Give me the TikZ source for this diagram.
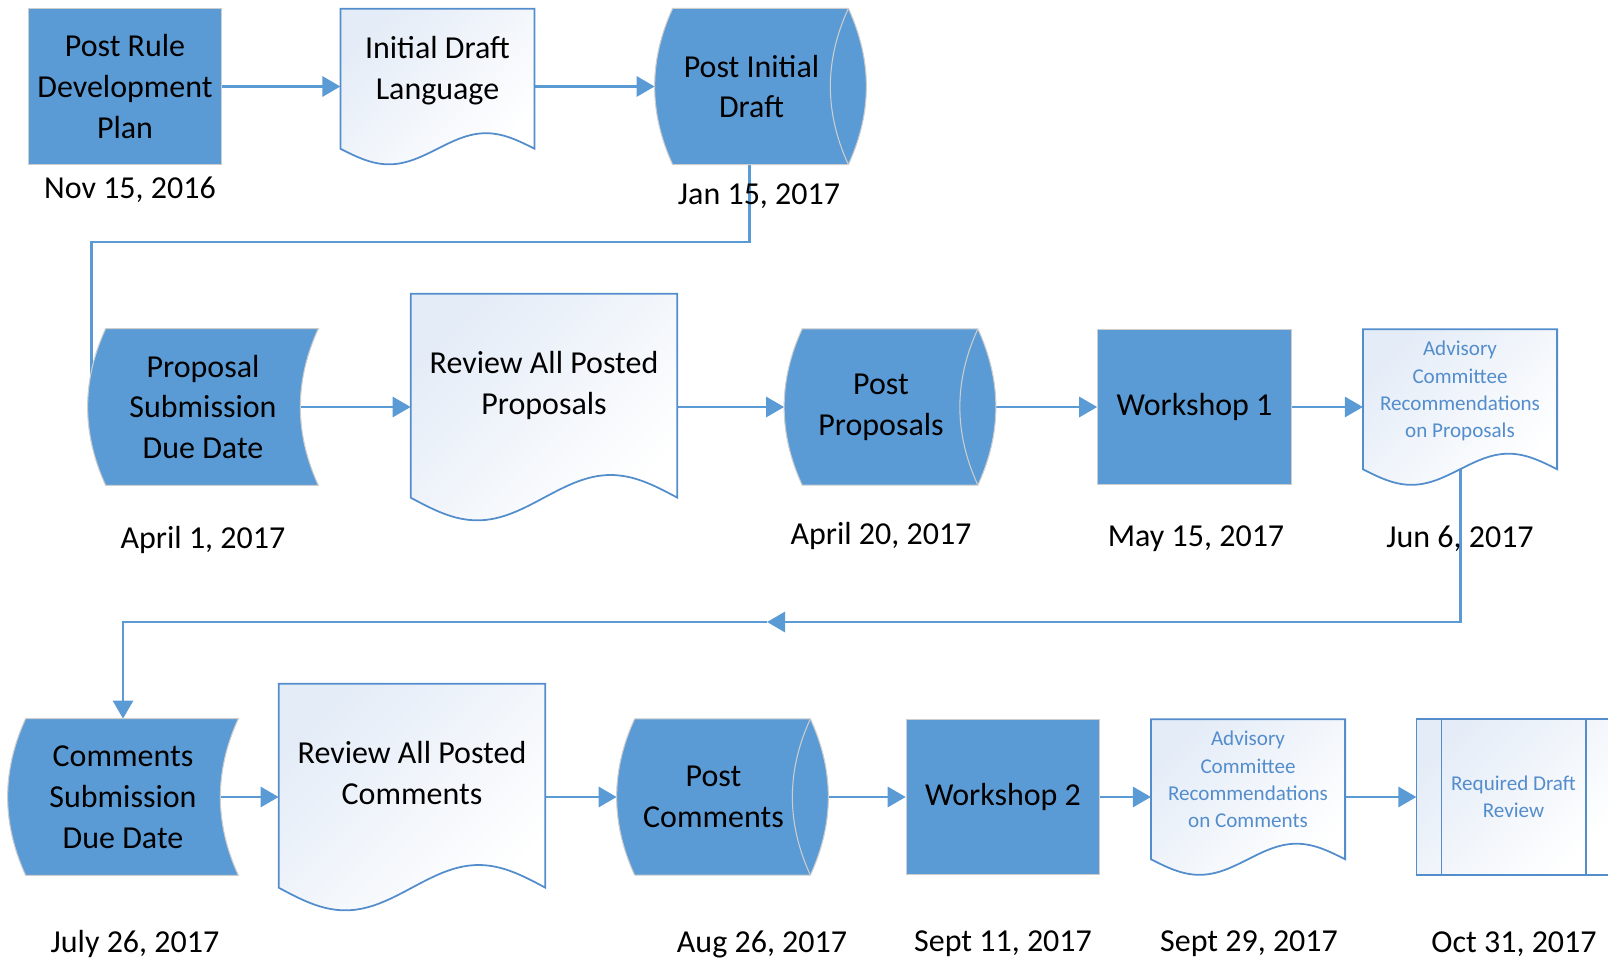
\documentclass[tikz,border=0pt]{standalone}
\usepackage{fontspec}
\setmainfont{Carlito}
\usetikzlibrary{calc}
\usetikzlibrary{arrows.meta}
\definecolor{fillblue}{RGB}{91,155,213}
\definecolor{rimgray}{RGB}{205,205,205}
\definecolor{lineblue}{RGB}{91,155,213}
\definecolor{docrim}{RGB}{84,141,204}
\definecolor{docink}{RGB}{84,141,204}
\definecolor{docshade}{RGB}{228,236,247}
\pgfdeclarelayer{lines}
\pgfdeclarelayer{shapes}
\pgfsetlayers{lines,shapes,main}
\tikzstyle{boxtext} = [inner sep=0pt, align=center,
font=\fontsize{18.2}{23.3}\selectfont]
\tikzstyle{process} = [boxtext,fill=fillblue,draw=rimgray,line width=0.6pt,
minimum width=3.87cm, minimum height=3.11cm]
\tikzstyle{drum} = [boxtext, minimum width=3.86cm, minimum height=3.11cm]
\tikzstyle{tape} = [boxtext, minimum width=4.6cm, minimum height=3.12cm]
\tikzstyle{doc} = [boxtext, minimum width=3.87cm, minimum height=3.1cm,
text depth=0.74cm]
\tikzstyle{bigdoc} = [doc, minimum width=5.32cm, minimum height=4.52cm,
text depth=0.97cm]
\tikzstyle{note} = [doc, font=\fontsize{12}{15.6}\selectfont, text=docink,
text depth=0.7cm]
\tikzstyle{barbox} = [note, text depth=, minimum height=3.12cm]
\tikzstyle{date} = [boxtext]
\tikzstyle{docfill} = [draw=docrim, line width=1pt, top color=docshade,
bottom color=white, shading angle=45]
\tikzstyle{flow} = [draw=lineblue, line width=1.7pt, ->,
>={Triangle[length=0.36cm,width=0.4cm]}]
\newcommand{\bulge}{0.36cm}
\newcommand{\drumshape}[1]{ %
  % side-on drum: bulging left edge, bulging right edge and back arc
  \begin{pgfonlayer}{shapes}
  \path[fill=fillblue, draw=rimgray, line width=0.6pt]
    let \p1=(#1.north west), \p2=(#1.south east), \n1={(\y1-\y2)/3} in
    (\x1+\bulge,\y1) -- (\x2,\y1)
    .. controls (\x2+4*\bulge/3,\y1-\n1) and (\x2+4*\bulge/3,\y2+\n1) .. (\x2,\y2)
    -- (\x1+\bulge,\y2)
    .. controls (\x1-\bulge/3,\y2+\n1) and (\x1-\bulge/3,\y1-\n1) .. cycle;
  \draw[rimgray, line width=0.6pt]
    let \p1=(#1.north east), \p2=(#1.south east), \n1={(\y1-\y2)/3} in
    (\x1,\y1)
    .. controls (\x1-4*\bulge/3,\y1-\n1) and (\x1-4*\bulge/3,\y2+\n1) .. (\x1,\y2);
  \end{pgfonlayer}
}
\newcommand{\tapeshape}[1]{ %
  \begin{pgfonlayer}{shapes}
  \path[fill=fillblue, draw=rimgray, line width=0.6pt]
    let \p1=(#1.north west), \p2=(#1.south east), \n1={(\y1-\y2)/3} in
    (\x1+\bulge,\y1) -- (\x2,\y1)
    .. controls (\x2-4*\bulge/3,\y1-\n1) and (\x2-4*\bulge/3,\y2+\n1) .. (\x2,\y2)
    -- (\x1+\bulge,\y2)
    .. controls (\x1-\bulge/3,\y2+\n1) and (\x1-\bulge/3,\y1-\n1) .. cycle;
  \end{pgfonlayer}
}
\newcommand{\docshape}[1]{ %
  \begin{pgfonlayer}{shapes}
  \path[docfill]
    let \p1=(#1.north west), \p2=(#1.south east), \n1={\x2-\x1},
    \n2={(\y1-\y2)/10} in
    (\x1,\y1) -- (\x2,\y1) -- (\x2,\y2+\n2)
    sin (\x1+0.75*\n1,\y2+2*\n2) cos (\x1+0.5*\n1,\y2+\n2)
    sin (\x1+0.25*\n1,\y2) cos (\x1,\y2+\n2) -- cycle;
  \end{pgfonlayer}
}
\newcommand{\barshape}[1]{ %
  \begin{pgfonlayer}{shapes}
  \path[docfill] (#1.north west) rectangle (#1.south east);
  \draw[docrim, line width=1pt]
    ($(#1.north west)+(0.5,0)$) -- ($(#1.south west)+(0.5,0)$)
    ($(#1.north east)+(-0.5,0)$) -- ($(#1.south east)+(-0.5,0)$);
  \end{pgfonlayer}
}

\begin{document}
\begin{tikzpicture}
  \useasboundingbox (0,0) rectangle (32.16,-19.18);
  % first row
  \node[process](postrule) at (2.50,-1.73) {Post Rule\\Development\\Plan};
  \node[doc](draft) at (8.75,-1.73) {Initial Draft\\Language};
  \docshape{draft}
  \node[drum](postinit) at (15.03,-1.73) {Post Initial\\Draft};
  \drumshape{postinit}
  \node[date](d-postrule) at (2.60,-3.80) {Nov 15, 2016};
  \node[date](d-postinit) at (15.18,-3.92) {Jan 15, 2017};
  % second row
  \node[tape](proposal) at (4.06,-8.14) {Proposal\\Submission\\Due Date};
  \tapeshape{proposal}
  \node[bigdoc](reviewprop) at (10.88,-8.14) {Review All Posted\\Proposals};
  \docshape{reviewprop}
  \node[drum](postprop) at (17.62,-8.14) {Post\\Proposals};
  \drumshape{postprop}
  \node[process](ws1) at (23.89,-8.14) {Workshop 1};
  \node[note](advprop) at (29.20,-8.14)
    {Advisory\\Committee\\Recommendations\\on Proposals};
  \docshape{advprop}
  \node[date](d-proposal) at (4.06,-10.80) {April 1, 2017};
  \node[date](d-postprop) at (17.62,-10.72) {April 20, 2017};
  \node[date](d-ws1) at (23.92,-10.78) {May 15, 2017};
  \node[date](d-advprop) at (29.20,-10.78) {Jun 6, 2017};
  % third row
  \node[tape](comments) at (2.46,-15.94) {Comments\\Submission\\Due Date};
  \tapeshape{comments}
  \node[bigdoc](reviewcom) at (8.24,-15.94) {Review All Posted\\Comments};
  \docshape{reviewcom}
  \node[drum](postcom) at (14.27,-15.94) {Post\\Comments};
  \drumshape{postcom}
  \node[process](ws2) at (20.06,-15.94) {Workshop 2};
  \node[note](advcom) at (24.96,-15.94)
    {Advisory\\Committee\\Recommendations\\on Comments};
  \docshape{advcom}
  \node[barbox](reqdraft) at (30.27,-15.94) {Required Draft\\Review};
  \barshape{reqdraft}
  \node[date](d-comments) at (2.70,-18.88) {July 26, 2017};
  \node[date](d-postcom) at (15.24,-18.88) {Aug 26, 2017};
  \node[date](d-ws2) at (20.06,-18.88) {Sept 11, 2017};
  \node[date](d-advcom) at (24.98,-18.88) {Sept 29, 2017};
  \node[date](d-reqdraft) at (30.28,-18.88) {Oct 31, 2017};
  \coordinate (turn) at (15.34,-12.44);
  % connectors
  \begin{pgfonlayer}{lines}
  \draw[flow] (postrule.east) -- (draft.west);
  \draw[flow] (draft.east) -- (postinit.west);
  \draw[flow, -] ([xshift=-0.04cm]postinit.center) -- ++(0,-3.11)
    -| ([xshift=0.08cm]proposal.west);
  \draw[flow] ([xshift=-\bulge]proposal.east) -- (reviewprop.west);
  \draw[flow] (reviewprop.east) -- (postprop.west);
  \draw[flow] (postprop.east) -- (ws1.west);
  \draw[flow] (ws1.east) -- (advprop.west);
  \draw[flow] (advprop.center) |- (turn);
  \draw[flow] (turn) -| (comments.north);
  \draw[flow] ([xshift=-\bulge]comments.east) -- (reviewcom.west);
  \draw[flow] (reviewcom.east) -- (postcom.west);
  \draw[flow] (postcom.east) -- (ws2.west);
  \draw[flow] (ws2.east) -- (advcom.west);
  \draw[flow] (advcom.east) -- (reqdraft.west);
  \end{pgfonlayer}
\end{tikzpicture}
\end{document}
